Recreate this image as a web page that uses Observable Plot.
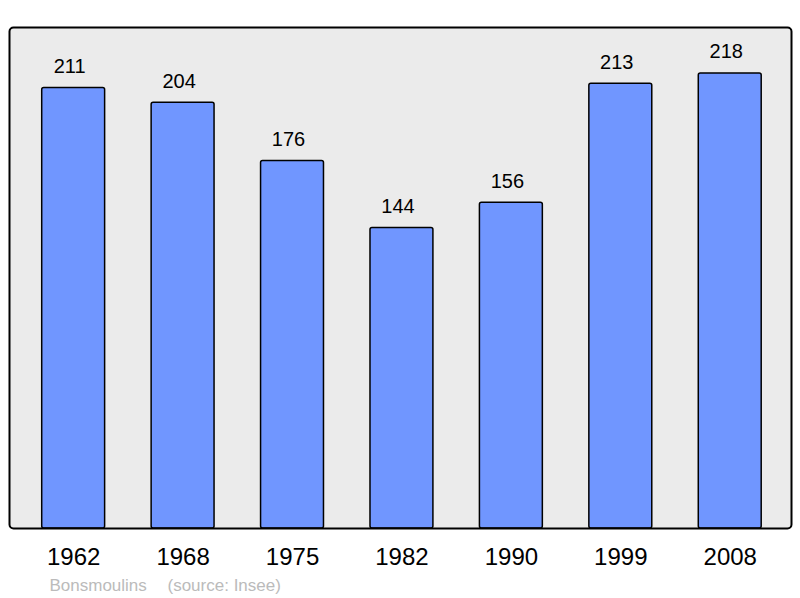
<!DOCTYPE html>
<html>
<head>
<meta charset="utf-8">
<script src="https://cdn.jsdelivr.net/npm/d3@7"></script>
<script src="https://cdn.jsdelivr.net/npm/@observablehq/plot@0.6"></script>
<style>
  html, body { margin: 0; padding: 0; background: #fff; }
  svg { display: block; }
</style>
</head>
<body>
<div id="chart"></div>
<script>
const years = ["1962", "1968", "1975", "1982", "1990", "1999", "2008"];
const population = [211, 204, 176, 144, 156, 213, 218];
const commune = "Bonsmoulins";
const source = "(source: Insee)";

const data = years.map((year, i) => ({year, value: population[i]}));

const chart = Plot.plot({
  width: 800,
  height: 598,
  marginTop: 27,
  marginBottom: 70,
  marginLeft: 9,
  marginRight: 9,
  style: {fontFamily: "'Liberation Sans', Arial, sans-serif", background: "#fff"},
  x: {domain: years, range: [41.7, 761.2], paddingInner: 0.425, paddingOuter: 0, round: false, label: null},
  y: {domain: [0, 240], axis: null},
  marks: [
    Plot.frame({fill: "#ebebeb", stroke: "none", rx: 4}),
    Plot.barY(data, {x: "year", y: "value", fill: "#7096ff", stroke: "#000", strokeWidth: 1.5, rx: 2}),
    Plot.frame({stroke: "#000", strokeWidth: 2, rx: 4}),
    Plot.text(data, {x: "year", y: "value", text: d => String(d.value), lineAnchor: "bottom", dy: -15, dx: -4, fontSize: 20, fill: "#000"}),
    Plot.axisX({tickSize: 0, tickPadding: 19, fontSize: 24, color: "#000", label: null}),
    Plot.text([commune], {frameAnchor: "bottom-left", text: d => d, dx: 40, dy: 62, lineAnchor: "bottom", textAnchor: "start", fontSize: 17, fill: "#bbbbbb"}),
    Plot.text([source], {frameAnchor: "bottom-left", text: d => d, dx: 158, dy: 62, lineAnchor: "bottom", textAnchor: "start", fontSize: 17, fill: "#bbbbbb"})
  ]
});
document.getElementById("chart").appendChild(chart);
</script>
</body>
</html>
